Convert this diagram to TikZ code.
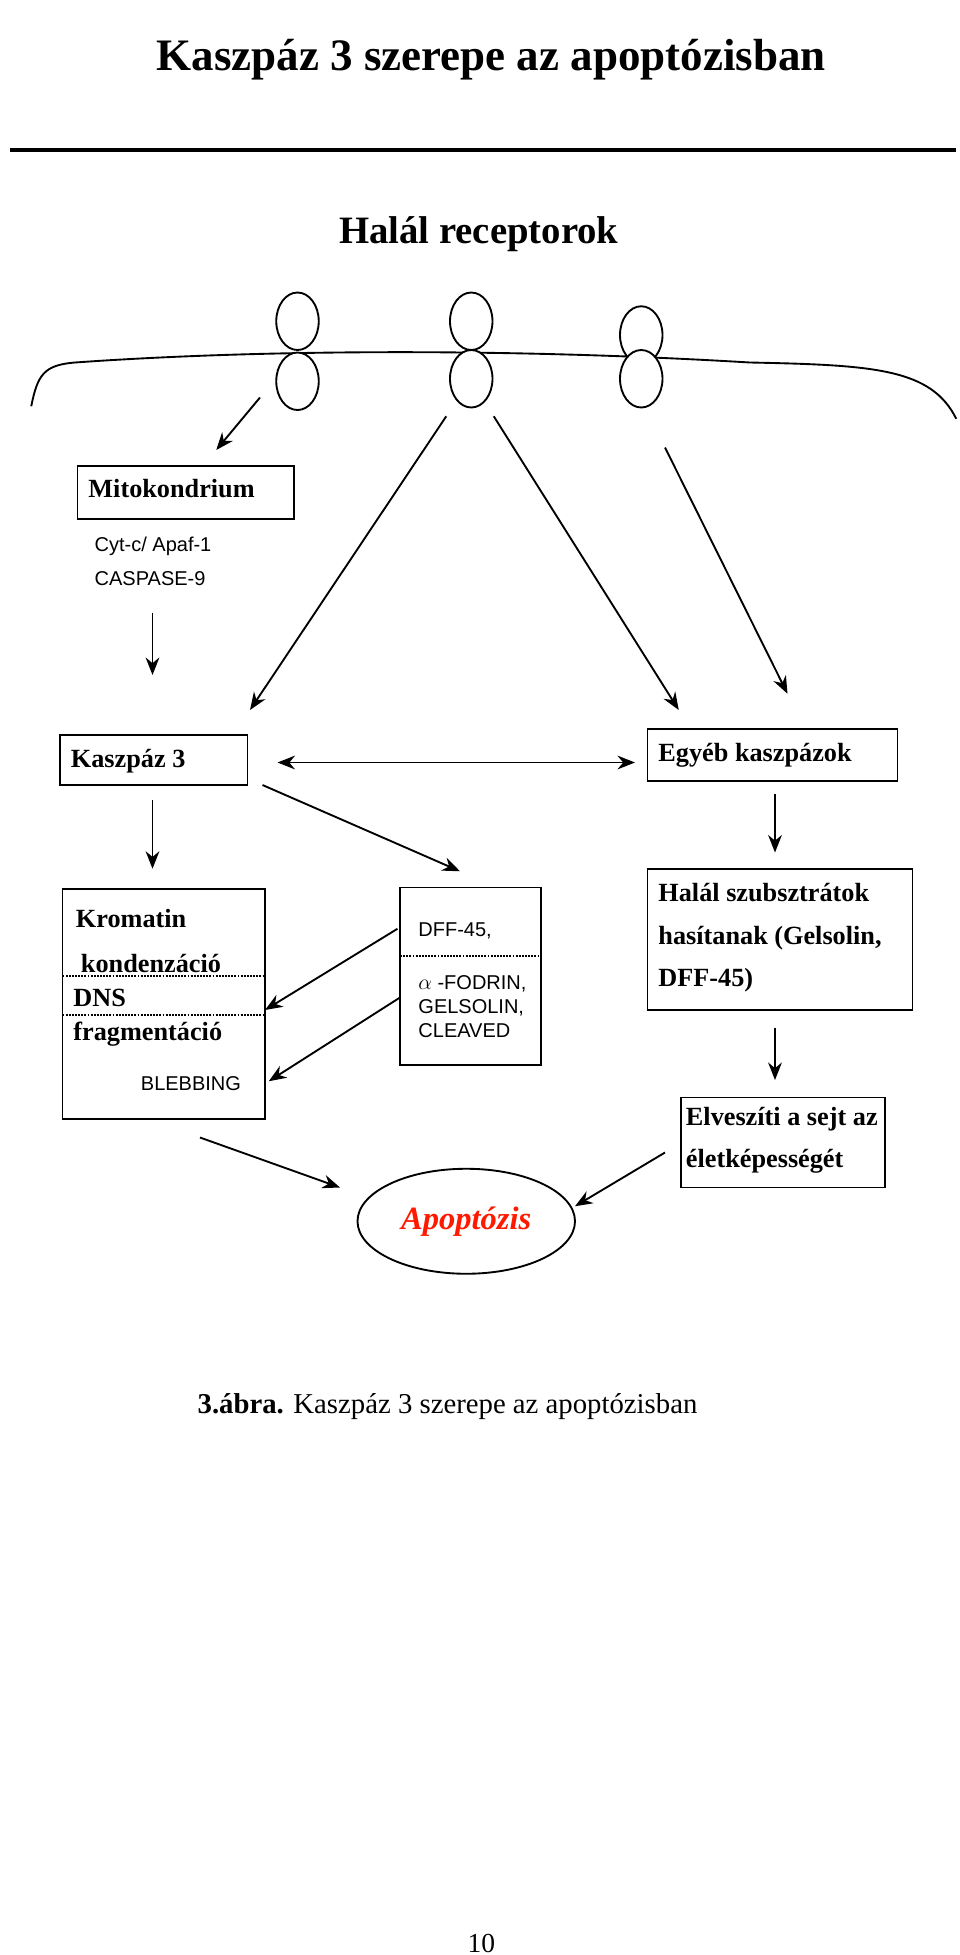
\documentclass[tikz,border=0pt]{standalone}
\usepackage{fontspec}
\setmainfont{Liberation Serif}
\setsansfont{Liberation Sans}
\usetikzlibrary{arrows.meta, positioning, shapes.geometric}

\begin{document}
\begin{tikzpicture}[x=1pt, y=-1pt,
    >={Stealth[black,length=14pt,width=11pt]},
    boxtext/.style={font=\fontsize{21}{24}\selectfont\bfseries, anchor=west, inner sep=0pt},
    sanstext/.style={font=\fontsize{16}{19}\sffamily, anchor=west, inner sep=0pt},
    every path/.style={line width=1.5pt}]
\useasboundingbox (0,0) rectangle (768,1564);

\node (title) at (393,48) {\fontsize{36}{42}\selectfont\bfseries Kaszpáz 3 szerepe az apoptózisban};
\draw[line width=2.5pt] (8,120) -- (765,120);
\node (halal) at (383,187) {\fontsize{31}{36}\selectfont\bfseries Halál receptorok};

% membrane and receptors
\draw (25,325) .. controls (30,300) and (35,292) .. (60,290)
      .. controls (200,280) and (400,278) .. (600,290)
      .. controls (700,292) and (745,295) .. (765,335);
\foreach \x/\ya/\yb in {238/257/305, 377/257/303, 513/268/303} {
  \draw[fill=white] (\x,\ya) ellipse (17 and 23);
  \draw[fill=white] (\x,\yb) ellipse (17 and 23);
}
\coordinate (r1) at (208,318);
\coordinate (r2a) at (357,333);
\coordinate (r2b) at (395,333);
\coordinate (r3) at (532,358);

% boxes
\draw (62,373) rectangle (235,415);
\node[boxtext] (mito) at (70,391) {Mitokondrium};
\node[sanstext] (cyt) at (75,437) {Cyt-c/ Apaf-1};
\node[sanstext] (casp9) at (75,463) {CASPASE-9};

\draw (48,588) rectangle (198,628);
\node[boxtext] (kasz) at (56,609) {Kaszpáz 3};
\draw (518,583) rectangle (718,625);
\node[boxtext] (egyeb) at (526,604) {Egyéb kaszpázok};

\draw (50,711) rectangle (212,895);
\draw[densely dotted] (50,781) -- (212,781);
\draw[densely dotted] (50,812) -- (212,812);
\node[boxtext] (krom) at (60,735) {Kromatin};
\node[boxtext] (kond) at (64,771) {kondenzáció};
\node[boxtext] (dns) at (58,798) {DNS};
\node[boxtext] (frag) at (58,827) {fragmentáció};
\node[sanstext] (bleb) at (112,867) {BLEBBING};

\draw (320,710) rectangle (433,852);
\draw[densely dotted] (320,765) -- (433,765);
\node[sanstext] (dff) at (334,745) {DFF-45,};
\node[sanstext, align=left, anchor=north west] (fodrin) at (334,780) {$\alpha$ -FODRIN,\\GELSOLIN,\\CLEAVED};

\draw (518,695) rectangle (730,808);
\node[boxtext, align=left, anchor=north west, font=\fontsize{21}{34}\selectfont\bfseries] (szub) at (526,706) {Halál szubsztrátok\\hasítanak (Gelsolin,\\DFF-45)};

\draw (545,878) rectangle (708,950);
\node[boxtext, align=left, anchor=north west, font=\fontsize{21}{34}\selectfont\bfseries] (elv) at (548,885) {Elveszíti a sejt az\\életképességét};

\node[draw, ellipse, minimum width=174pt, minimum height=84pt] (apop) at (373,977) {};
\node[text=red!80!orange, font=\fontsize{26}{30}\selectfont\bfseries\itshape] at (apop) {Apoptózis};

% arrows
\coordinate (mitoIn) at (173,360);
\draw[->] (r1) -- (mitoIn);
\draw[->] (r2a) -- (200,568);
\draw[->] (r2b) -- (543,568);
\draw[->] (r3) -- (630,555);
\draw[->] (122,490) -- (122,540);
\draw[<->] (222,610) -- (508,610);
\draw[->] (122,640) -- (122,695);
\draw[->] (210,628) -- (368,697);
\draw[->] (620,635) -- (620,682);
\draw[->] (318,743) -- (212,808);
\draw[->] (320,798) -- (215,865);
\draw[->] (620,822) -- (620,864);
\draw[->] (160,910) -- (272,950);
\draw[->] (532,922) -- (460,965);

% caption
\node (cap) at (358,1125) {\fontsize{23}{27}\selectfont\textbf{3.ábra.} Kaszpáz 3 szerepe az apoptózisban};
\node (page) at (385,1555) {\fontsize{22}{26}\selectfont 10};
\end{tikzpicture}
\end{document}
